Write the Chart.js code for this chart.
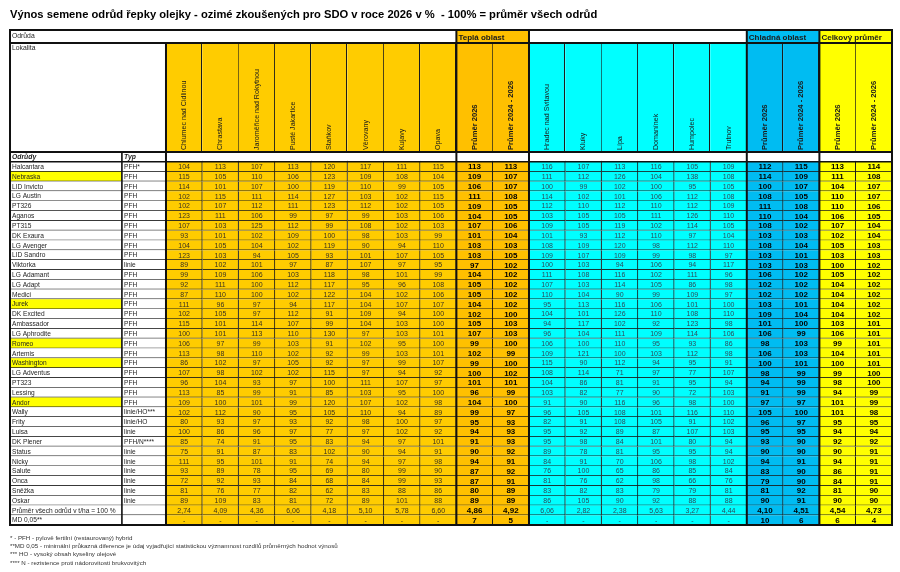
<!DOCTYPE html>
<html><head><meta charset="utf-8">
<script src="https://cdn.jsdelivr.net/npm/chart.js@4"></script>
<style>html,body{margin:0;padding:0;background:#fff}canvas{display:block}</style>
</head><body>
<canvas id="c" width="900" height="572" style="width:900px;height:572px"></canvas>
<script>
const titleText = 'Výnos semene odrůd řepky olejky - ozimé zkoušených pro SDO v roce 2026 v %  - 100% = průměr všech odrůd';
const footnotes = [
  '* - PFH - pylově fertilní (restaurovaný) hybrid',
  '**MD 0,05 - minimální průkazná diference je údaj vyjadřující statistickou významnost rozdílů průměrných hodnot výnosů',
  '*** HO - vysoký obsah kyseliny olejové',
  '**** N - rezistence proti nádorovitosti brukvovitých'
];
const varieties = ['Halcantara','Nebraska','LID Invicto','LG Austin','PT326','Aganos','PT315','DK Exaura','LG Avenger','LID Sandro','Viktorka','LG Adamant','LG Adapt','Medici','Jurek','DK Excited','Ambassador','LG Aphrodite','Romeo','Artemis','Washington','LG Adventus','PT323','Lessing','Andor','Wally','Frity','Luisa','DK Plener','Status','Nicky','Salute','Onca','Sněžka','Oskar'];
const types = ['PFH*','PFH','PFH','PFH','PFH','PFH','PFH','PFH','PFH','PFH','linie','PFH','PFH','PFH','PFH','PFH','PFH','PFH','PFH','PFH','PFH','PFH','PFH','PFH','PFH','linie/HO***','linie/HO','linie','PFH/N****','linie','linie','linie','linie','linie','linie'];
const highlighted = ['Nebraska','Jurek','Romeo','Washington','Andor'];
const warmLocations = ['Chlumec nad Cidlinou','Chrastava','Jaroměřice nad Rokytnou','Pusté Jakartice','Staňkov','Věrovany','Kujavy','Opava'];
const coldLocations = ['Hradec nad Svitavou','Kluky','Lípa','Domanínek','Humpolec','Trutnov'];
const avgLabels = ['Průměr 2026','Průměr 2024 - 2026'];
const groupHeaders = ['Teplá oblast','Chladná oblast','Celkový průměr'];
const meanRowLabel = 'Průměr všech odrůd v t/ha = 100 %';
const mdRowLabel = 'MD 0,05**';

const warmValues = [
[104,113,107,113,120,117,111,115],[115,105,110,106,123,109,108,104],[114,101,107,100,119,110,99,105],
[102,115,111,114,127,103,102,115],[102,107,112,111,123,112,102,105],[123,111,106,99,97,99,103,106],
[107,103,125,112,99,108,102,103],[93,101,102,109,100,98,103,99],[104,105,104,102,119,90,94,110],
[123,103,94,105,93,101,107,105],[89,102,101,97,87,107,97,95],[99,109,106,103,118,98,101,99],
[92,111,100,112,117,95,96,108],[87,110,100,102,122,104,102,106],[111,96,97,94,117,104,107,107],
[102,105,97,112,91,109,94,100],[115,101,114,107,99,104,103,100],[100,101,113,110,130,97,103,101],
[106,97,99,103,91,102,95,100],[113,98,110,102,92,99,103,101],[86,102,97,105,92,97,99,107],
[107,98,102,102,115,97,94,92],[96,104,93,97,100,111,107,97],[113,85,99,91,85,103,95,100],
[109,100,101,99,120,107,102,98],[102,112,90,95,105,110,94,89],[80,93,97,93,92,98,100,97],
[100,86,96,97,77,97,102,92],[85,74,91,95,83,94,97,101],[75,91,87,83,102,90,94,91],
[111,95,101,91,74,94,97,98],[93,89,78,95,69,80,99,90],[72,92,93,84,68,84,99,93],
[81,76,77,82,62,83,88,86],[89,109,83,81,72,89,101,88]];
const warmAvg = [[113,113],[109,107],[106,107],[111,108],[109,105],[104,105],[107,106],[101,104],[103,103],[103,105],[97,102],[104,102],[105,102],[105,102],[104,102],[102,100],[105,103],[107,103],[99,100],[102,99],[99,100],[100,102],[101,101],[96,99],[104,100],[99,97],[95,93],[94,93],[91,93],[90,92],[94,91],[87,92],[87,91],[80,89],[89,89]];
const coldValues = [
[116,107,113,116,105,109],[111,112,126,104,138,108],[100,99,102,100,95,105],[114,102,101,106,112,108],
[112,110,112,110,112,109],[103,105,105,111,126,110],[109,105,119,102,114,105],[101,93,112,110,97,104],
[108,109,120,98,112,110],[109,107,109,99,98,97],[100,103,94,106,94,117],[111,108,116,102,111,96],
[107,103,114,105,86,98],[110,104,90,99,109,97],[95,113,116,106,101,100],[104,101,126,110,108,110],
[94,117,102,92,123,98],[96,104,111,109,114,106],[106,100,110,95,93,86],[109,121,100,103,112,98],
[115,90,112,94,95,91],[108,114,71,97,77,107],[104,86,81,91,95,94],[103,82,77,90,72,103],
[91,90,116,96,98,100],[96,105,108,101,116,110],[82,91,108,105,91,102],[95,92,89,87,107,103],
[95,98,84,101,80,94],[89,78,81,95,95,94],[84,91,70,106,98,102],[76,100,65,86,85,84],
[81,76,62,98,66,76],[83,82,83,79,79,81],[86,105,90,92,88,88]];
const coldAvg = [[112,115],[114,109],[100,107],[108,105],[111,108],[110,104],[108,102],[103,103],[108,104],[103,101],[103,103],[106,102],[102,102],[102,102],[103,101],[109,104],[101,100],[106,99],[98,103],[106,103],[100,101],[98,99],[94,99],[91,99],[97,97],[105,100],[96,97],[95,95],[93,90],[90,90],[94,91],[83,90],[79,90],[81,92],[90,91]];
const totalAvg = [[113,114],[111,108],[104,107],[110,107],[110,106],[106,105],[107,104],[102,104],[105,103],[103,103],[100,102],[105,102],[104,102],[104,102],[104,102],[104,102],[103,101],[106,101],[99,101],[104,101],[100,101],[99,100],[98,100],[94,99],[101,99],[101,98],[95,95],[94,94],[92,92],[90,91],[94,91],[86,91],[84,91],[81,90],[90,90]];
const meanYieldWarm = [2.74,4.09,4.36,6.06,4.18,5.10,5.78,6.60];
const meanYieldWarmAvg = [4.86,4.92];
const meanYieldCold = [6.06,2.82,2.38,5.63,3.27,4.44];
const meanYieldColdAvg = [4.10,4.51];
const meanYieldTotal = [4.54,4.73];
const mdWarm = [null,null,null,null,null,null,null,null];
const mdWarmAvg = [7,5];
const mdCold = [null,null,null,null,null,null];
const mdColdAvg = [10,6];
const mdTotal = [6,4];

// ---- layout / style (not data) ----
const FONT = '"Liberation Sans", Arial, Helvetica, sans-serif';
const W_NAME = 3.085, W_TYPE = 1.212, W_DATA = 1;
const style = {
  warm:{bg:'#FFCC00', bold:false, txt:'#3a3220'},
  warmAvg:{bg:'#FFC000', bold:true, txt:'#000'},
  cold:{bg:'#00FFFF', bold:false, txt:'#2e4b5a'},
  coldAvg:{bg:'#00BCF2', bold:true, txt:'#000'},
  total:{bg:'#FFFF00', bold:true, txt:'#000'}
};
const sources = {
  warm:{vals:warmValues, mean:meanYieldWarm, md:mdWarm, labels:warmLocations},
  warmAvg:{vals:warmAvg, mean:meanYieldWarmAvg, md:mdWarmAvg, labels:avgLabels},
  cold:{vals:coldValues, mean:meanYieldCold, md:mdCold, labels:coldLocations},
  coldAvg:{vals:coldAvg, mean:meanYieldColdAvg, md:mdColdAvg, labels:avgLabels},
  total:{vals:totalAvg, mean:meanYieldTotal, md:mdTotal, labels:avgLabels}
};

const rowLabels = ['Odrůdy', ...varieties, meanRowLabel, mdRowLabel];
const nV = varieties.length;
const columns = [{kind:'name', w:W_NAME},{kind:'type', w:W_TYPE}];
['warm','warmAvg','cold','coldAvg','total'].forEach(k=>{
  sources[k].labels.forEach((l,i)=>columns.push({kind:k, i, label:l, w:W_DATA}));
});
let acc = 0;
columns.forEach(c=>{c.start = acc; acc += c.w; c.end = acc;});
const totalW = acc;

function cellText(c, r){
  if (c.kind==='name'){
    if (r===0) return 'Odrůdy';
    if (r<=nV) return varieties[r-1];
    return r===nV+1 ? meanRowLabel : mdRowLabel;
  }
  if (c.kind==='type'){
    if (r===0) return 'Typ';
    if (r<=nV) return types[r-1];
    return '';
  }
  if (r===0) return '';
  const s = sources[c.kind];
  if (r<=nV) return String(s.vals[r-1][c.i]);
  if (r===nV+1) return s.mean[c.i].toFixed(2).replace('.',',');
  const m = s.md[c.i];
  return m==null ? '-' : String(m);
}
function cellBg(c, r){
  if (r===0) return '#ffffff';
  if (c.kind==='name') return (r<=nV && highlighted.includes(varieties[r-1])) ? '#FFFF00' : '#ffffff';
  if (c.kind==='type') return '#ffffff';
  return style[c.kind].bg;
}

const datasets = columns.map(c=>{
  const isData = !(c.kind==='name' || c.kind==='type');
  return {
    label: c.kind + (c.i!=null?c.i:''),
    data: rowLabels.map(()=>[c.start, c.end]),
    backgroundColor: rowLabels.map((_,r)=>cellBg(c,r)),
    borderColor:'#1c1c1c',
    borderWidth: ctx => ({top:0, left:0, right:(isData && ctx.dataIndex===0) ? 0 : 1, bottom:1}),
    borderSkipped:false,
    grouped:false,
    barPercentage:1,
    categoryPercentage:1
  };
});

const tablePlugin = {
  id:'tableText',
  afterDatasetsDraw(chart){
    const ctx = chart.ctx;
    ctx.save();
    ctx.textBaseline = 'middle';
    columns.forEach((c,ci)=>{
      const meta = chart.getDatasetMeta(ci);
      meta.data.forEach((el,r)=>{
        const p = el.getProps(['x','y','base'], true);
        const x0 = Math.min(p.x,p.base), x1 = Math.max(p.x,p.base);
        const t = cellText(c,r);
        if (!t) return;
        if (c.kind==='name' || c.kind==='type'){
          ctx.font = (r===0 ? 'italic bold 6.8px ' : '6.6px ') + FONT;
          ctx.fillStyle = '#1e1e1e';
          ctx.textAlign = 'left';
          ctx.fillText(t, x0+2, p.y+0.5);
        } else {
          const st = style[c.kind];
          ctx.font = (st.bold ? 'bold 8px ' : '7px ') + FONT;
          ctx.fillStyle = st.txt;
          ctx.textAlign = 'center';
          ctx.fillText(t, (x0+x1)/2, p.y+0.5);
        }
      });
    });
    ctx.restore();
  },
  afterDraw(chart){
    const ctx = chart.ctx, ca = chart.chartArea;
    const edge = ci => {
      const el = chart.getDatasetMeta(ci).data[0].getProps(['x','base'], true);
      return [Math.min(el.x,el.base), Math.max(el.x,el.base)];
    };
    const L = ca.left, R = ca.right;
    const yTop = ca.top - 122, yMid = ca.top - 109, yHb = ca.top, yB = ca.bottom;
    const idx = k => columns.map((c,i)=>c.kind===k?i:-1).filter(i=>i>=0);
    ctx.save();
    // Odrůda row
    ctx.fillStyle = '#fff'; ctx.fillRect(L, yTop, R-L, yMid-yTop);
    const groups = [['warmAvg',groupHeaders[0]],['coldAvg',groupHeaders[1]],['total',groupHeaders[2]]];
    groups.forEach(([k,label])=>{
      const ids = idx(k);
      const x0 = edge(ids[0])[0], x1 = edge(ids[ids.length-1])[1];
      ctx.fillStyle = style[k].bg; ctx.fillRect(x0, yTop, x1-x0, yMid-yTop);
      ctx.fillStyle = '#1a1a1a'; ctx.font = 'bold 8px ' + FONT;
      ctx.textBaseline = 'middle'; ctx.textAlign = 'left';
      ctx.fillText(label, x0+2, yTop+7.5);
    });
    ctx.font = '6.8px ' + FONT; ctx.fillStyle = '#1e1e1e';
    ctx.fillText('Odrůda', L+2, yTop+6.5);
    // Lokalita row
    ctx.fillStyle = '#fff'; ctx.fillRect(L, yMid, edge(1)[1]-L, yHb-yMid);
    ctx.fillStyle = '#1e1e1e'; ctx.fillText('Lokalita', L+2, yMid+5);
    columns.forEach((c,ci)=>{
      if (c.kind==='name'||c.kind==='type') return;
      const [x0,x1] = edge(ci);
      ctx.fillStyle = style[c.kind].bg; ctx.fillRect(x0, yMid, x1-x0, yHb-yMid);
      ctx.strokeStyle = '#1c1c1c'; ctx.lineWidth = 1;
      ctx.beginPath(); ctx.moveTo(Math.round(x1)-0.5, yMid); ctx.lineTo(Math.round(x1)-0.5, yHb); ctx.stroke();
      ctx.save();
      ctx.translate((x0+x1)/2, yHb-2);
      ctx.rotate(-Math.PI/2);
      ctx.font = (style[c.kind].bold ? 'bold 7.6px ' : '7.1px ') + FONT;
      ctx.fillStyle = '#1a1a1a'; ctx.textAlign = 'left'; ctx.textBaseline = 'middle';
      ctx.fillText(c.label, 0, 0);
      ctx.restore();
    });
    // thick lines
    ctx.strokeStyle = '#111'; ctx.lineWidth = 2;
    const hl = (y, xa, xb) => { ctx.beginPath(); ctx.moveTo(xa, y); ctx.lineTo(xb, y); ctx.stroke(); };
    const vl = (x, ya, yb) => { ctx.beginPath(); ctx.moveTo(x, ya); ctx.lineTo(x, yb); ctx.stroke(); };
    ctx.strokeRect(L, yTop, R-L, yB-yTop);
    hl(yMid, L, R); hl(yHb, L, R);
    const rowH = (chart.scales.y.getPixelForValue(1) - chart.scales.y.getPixelForValue(0));
    ctx.lineWidth = 1.6; hl(yHb + rowH, L, R);
    ctx.lineWidth = 2;
    vl(edge(1)[1], yMid, yB);
    ['warmAvg','cold','coldAvg','total'].forEach(k=>{ vl(edge(idx(k)[0])[0], yTop, yB); });
    ctx.lineWidth = 1.4; vl(edge(0)[1], yHb, yB);
    ctx.restore();
  }
};

new Chart(document.getElementById('c'), {
  type:'bar',
  data:{labels: rowLabels, datasets},
  options:{
    indexAxis:'y',
    responsive:false,
    animation:false,
    events:[],
    layout:{padding:{left:10,right:8,top:0,bottom:0}},
    scales:{
      x:{type:'linear', min:0, max:totalW, display:false},
      y:{type:'category', display:false, offset:true}
    },
    plugins:{
      legend:{display:false},
      tooltip:{enabled:false},
      title:{display:true, text:titleText, align:'start', color:'#000',
        font:{family:FONT, size:11.2, weight:'bold', lineHeight:'15px'}, padding:{top:7, bottom:130}},
      subtitle:{display:true, position:'bottom', align:'start', text:footnotes, color:'#333',
        font:{family:FONT, size:6.2, lineHeight:'8.3px'}, padding:{top:8.85, bottom:4.95}}
    }
  },
  plugins:[tablePlugin]
});
</script>
</body></html>
